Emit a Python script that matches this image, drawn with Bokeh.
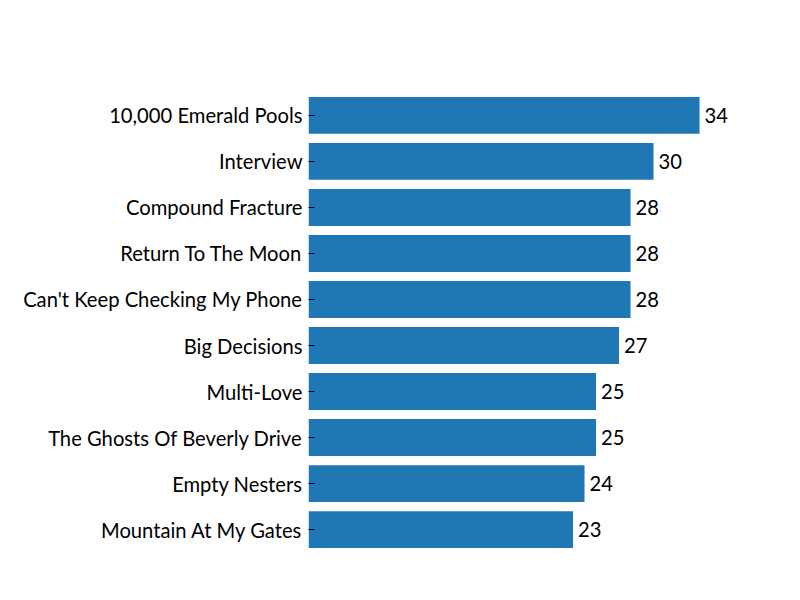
from bokeh.plotting import figure
from bokeh.models import FactorRange, Range1d, ColumnDataSource
from bokeh.core.properties import value
from bokeh.embed import file_html
from bokeh.resources import INLINE

songs = ["10,000 Emerald Pools", "Interview", "Compound Fracture", "Return To The Moon",
         "Can't Keep Checking My Phone", "Big Decisions", "Multi-Love",
         "The Ghosts Of Beverly Drive", "Empty Nesters", "Mountain At My Gates"]
counts = [34, 30, 28, 28, 28, 27, 25, 25, 24, 23]

FONT = "Lato"
source = ColumnDataSource(data=dict(song=songs, count=counts, label=[str(c) for c in counts]))

p = figure(width=800, height=600, output_backend="svg", toolbar_location=None,
           y_range=FactorRange(factors=list(reversed(songs)), range_padding=0.078),
           x_range=Range1d(0, 39.3),
           min_border_left=308, min_border_right=40, min_border_top=74, min_border_bottom=30)

p.hbar(y="song", right="count", left=0, height=0.8, source=source, color="#1f77b4", line_color=None)
p.text(x="count", y="song", text="label", source=source, x_offset=5,
       text_font=value(FONT), text_font_size="20.2px", text_baseline="middle", text_color="black")

p.xaxis.visible = False
p.xgrid.visible = False
p.ygrid.visible = False
p.outline_line_color = None
p.yaxis.axis_line_color = None
p.yaxis.major_tick_in = 6
p.yaxis.major_tick_out = 0
p.yaxis.major_tick_line_color = "black"
p.yaxis.major_label_standoff = 6
p.yaxis.major_label_text_font = FONT
p.yaxis.major_label_text_font_size = "20.2px"
p.yaxis.major_label_text_color = "black"
p.background_fill_color = "white"
p.border_fill_color = "white"

open("out.html", "w").write(file_html(p, INLINE))
